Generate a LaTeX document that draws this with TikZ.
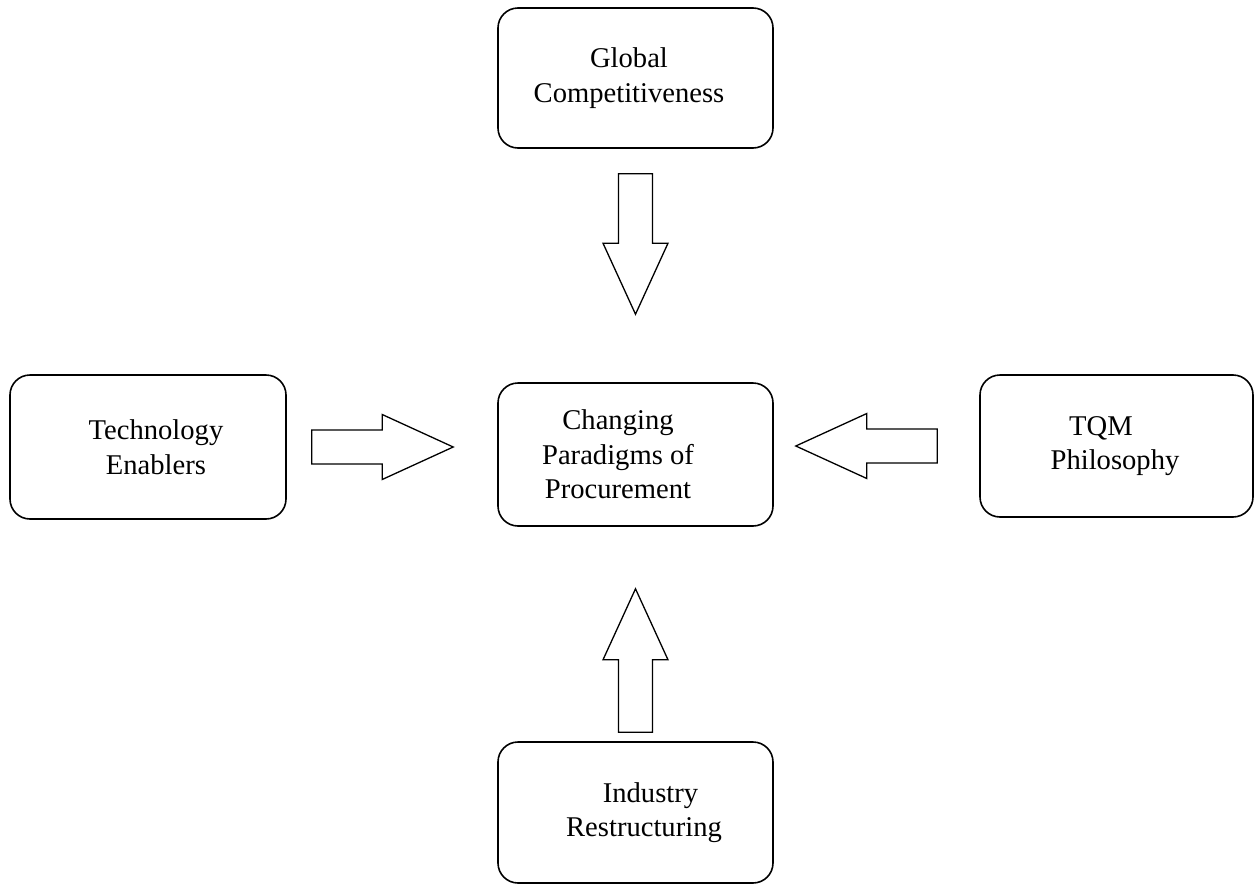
\documentclass[tikz,border=0pt]{standalone}
\usepackage{fontspec}
\setmainfont{Liberation Serif}
\usetikzlibrary{positioning,calc}

% hollow block arrow from #1 (tail) to #2 (tip)
\newcommand{\blockarrow}[2]{%
  \coordinate (hb) at ($(#2)!35.5pt!(#1)$);
  \draw[hollow]
    ($(#1)!8.5pt!90:(#2)$) -- ($(hb)!8.5pt!90:(#2)$) -- ($(hb)!16.25pt!90:(#2)$)
    -- (#2)
    -- ($(hb)!16.25pt!-90:(#2)$) -- ($(hb)!8.5pt!-90:(#2)$) -- ($(#1)!8.5pt!-90:(#2)$)
    -- cycle;
}

\begin{document}
\begin{tikzpicture}[x=0.5pt,y=-0.5pt,
    factor/.style={draw, rounded corners=10pt, line width=0.8pt, inner sep=0pt,
      minimum width=137.5pt, minimum height=71pt},
    hollow/.style={draw, fill=white, line width=0.65pt, line join=miter},
    every label/.style={align=center, inner sep=0pt,
      font=\fontsize{14.3}{17.25}\selectfont}]
  \useasboundingbox (0,0) rectangle (1255,884);

  \node [factor, minimum height=70pt, label={[xshift=-3.25pt]center:{Global\\Competitiveness}}] (glob) at (635.5,78) {};
  \node [factor, minimum height=71.5pt, label={[xshift=-8.75pt]center:{Changing\\Paradigms of\\Procurement}}] (chg) at (635.5,454.5) {};
  \node [factor, minimum width=138pt, minimum height=72pt, label={[xshift=4pt]center:{Technology\\Enablers}}] (tech) at (148,447) {};
  \node [factor, minimum width=136.5pt, label={[xshift=-0.75pt]center:{TQM\hspace*{14pt}\\Philosophy}}] (tqm) at (1116.5,446) {};
  \node [factor, minimum height=70.5pt, label={[xshift=4.25pt]center:{\hspace*{6.5pt}Industry\\Restructuring}}] (ind) at (635.5,812.5) {};

  % arrow ends
  \coordinate [below=12.5pt of glob] (gTail);
  \coordinate [above=34pt of chg] (gTip);
  \coordinate [right=12.5pt of tech] (tTail);
  \coordinate (tTip) at ($(chg.west |- tech.east)+(-22pt,0)$);
  \coordinate [left=21pt of tqm] (qTail);
  \coordinate (qTip) at ($(chg.east |- tqm.west)+(11pt,0)$);
  \coordinate [above=4.5pt of ind] (iTail);
  \coordinate [below=31pt of chg] (iTip);

  \blockarrow{gTail}{gTip}
  \blockarrow{tTail}{tTip}
  \blockarrow{qTail}{qTip}
  \blockarrow{iTail}{iTip}
\end{tikzpicture}
\end{document}
